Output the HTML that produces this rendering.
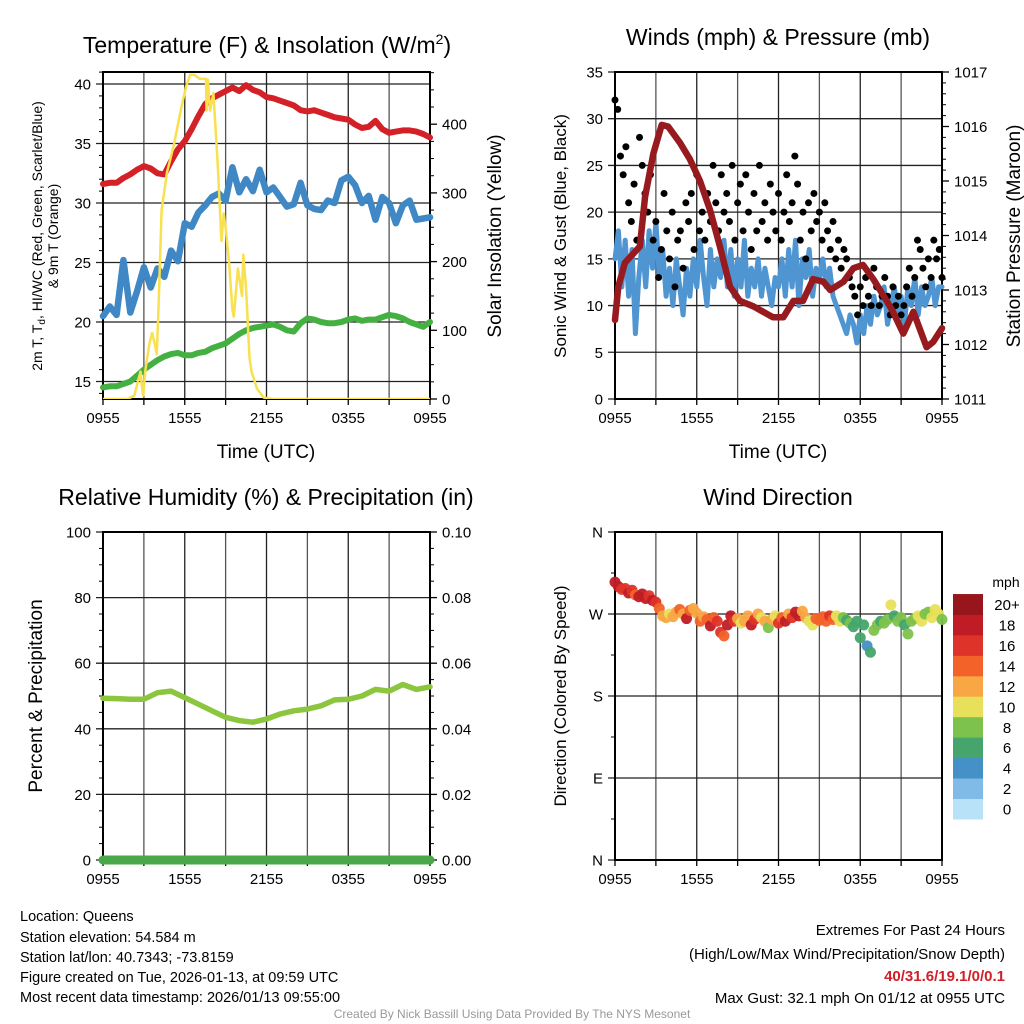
<!DOCTYPE html>
<html><head><meta charset="utf-8"><style>
html,body{margin:0;padding:0;background:#fff;}
svg{display:block;font-family:"Liberation Sans",sans-serif;}
</style></head><body>
<svg id="c" width="1024" height="1024" viewBox="0 0 1024 1024" xmlns="http://www.w3.org/2000/svg">
<rect width="1024" height="1024" fill="#fff"/>
<g id="g"></g>
<text x="267" y="53" font-size="23" text-anchor="middle">Temperature (F) &amp; Insolation (W/m<tspan font-size="14" dy="-9">2</tspan><tspan dy="9">)</tspan></text>
<text x="778" y="45" font-size="23" text-anchor="middle">Winds (mph) &amp; Pressure (mb)</text>
<text x="266" y="505" font-size="23" text-anchor="middle">Relative Humidity (%) &amp; Precipitation (in)</text>
<text x="778" y="505" font-size="23" text-anchor="middle">Wind Direction</text>
<text x="266" y="458" font-size="19" text-anchor="middle">Time (UTC)</text>
<text x="778" y="458" font-size="19" text-anchor="middle">Time (UTC)</text>
<text transform="translate(42,236) rotate(-90)" font-size="14" text-anchor="middle">2m T, T<tspan font-size="10" dy="3">d</tspan><tspan dy="-3">, HI/WC (Red, Green, Scarlet/Blue)</tspan></text>
<text transform="translate(58,236) rotate(-90)" font-size="14" text-anchor="middle">&amp; 9m T (Orange)</text>
<text transform="translate(501,236) rotate(-90)" font-size="19" text-anchor="middle">Solar Insolation (Yellow)</text>
<text transform="translate(566,236) rotate(-90)" font-size="17" text-anchor="middle">Sonic Wind &amp; Gust (Blue, Black)</text>
<text transform="translate(1020,236) rotate(-90)" font-size="19" text-anchor="middle">Station Pressure (Maroon)</text>
<text transform="translate(42,696) rotate(-90)" font-size="19" text-anchor="middle">Percent &amp; Precipitation</text>
<text transform="translate(566,696) rotate(-90)" font-size="17" text-anchor="middle">Direction (Colored By Speed)</text>
<text x="1006" y="587" font-size="14" text-anchor="middle">mph</text>
<g font-size="14.5">
<text x="20" y="921">Location: Queens</text>
<text x="20" y="942">Station elevation: 54.584 m</text>
<text x="20" y="962">Station lat/lon: 40.7343; -73.8159</text>
<text x="20" y="982">Figure created on Tue, 2026-01-13, at 09:59 UTC</text>
<text x="20" y="1002">Most recent data timestamp: 2026/01/13 09:55:00</text>
</g>
<g font-size="15" text-anchor="end">
<text x="1005" y="935">Extremes For Past 24 Hours</text>
<text x="1005" y="959">(High/Low/Max Wind/Precipitation/Snow Depth)</text>
<text x="1005" y="981" fill="#d0202a" font-weight="bold">40/31.6/19.1/0/0.1</text>
<text x="1005" y="1003">Max Gust: 32.1 mph On 01/12 at 0955 UTC</text>
</g>
<text x="512" y="1018" font-size="12" fill="#999" text-anchor="middle">Created By Nick Bassill Using Data Provided By The NYS Mesonet</text>
</svg>
<script>
// ---- data ----
const timeLabels = ["0955","1555","2155","0355","0955"];
const tempHours = [0,0.5,1,1.5,2,2.5,3,3.5,4,4.5,5,5.5,6,6.5,7,7.5,8,8.5,9,9.5,10,10.5,11,11.5,12,12.5,13,13.5,14,14.5,15,15.5,16,16.5,17,17.5,18,18.5,19,19.5,20,20.5,21,21.5,22,22.5,23,23.5,24];
const tempRed = [31.6,31.7,31.7,32.1,32.4,32.8,33.1,32.9,32.5,32.4,33.5,34.5,35.2,36.2,37.3,38.3,38.8,39.1,39.4,39.7,39.4,39.9,39.5,39.3,38.9,38.8,38.6,38.4,38.2,37.8,37.7,37.8,37.6,37.4,37.2,37.1,37.0,36.6,36.3,36.4,36.9,36.2,35.9,36.0,36.1,36.1,36.0,35.8,35.5];
const tempBlue = [20.5,21.3,20.6,25.2,20.8,22.6,24.6,22.9,24.5,23.8,26.0,25.1,28.3,28.0,29.2,29.8,30.5,30.8,30.2,33.0,30.9,32.0,31.0,32.8,30.9,31.3,30.5,29.7,29.9,31.7,29.8,29.5,29.4,30.2,30.0,31.9,32.2,31.5,30.0,30.6,28.6,30.5,30.0,28.3,29.8,30.2,28.6,28.7,28.8];
const tempGreen = [14.5,14.6,14.6,14.8,15.0,15.5,16.0,16.4,16.8,17.1,17.3,17.4,17.2,17.2,17.4,17.5,17.8,18.0,18.2,18.6,19.0,19.3,19.5,19.6,19.7,19.8,19.6,19.3,19.2,19.9,20.3,20.2,20.0,19.9,19.9,20.0,20.2,20.3,20.1,20.2,20.2,20.4,20.6,20.5,20.3,20.0,19.8,19.6,20.0];
const solarHours = [0,1.8,2.3,2.75,2.85,2.95,3.1,3.4,3.6,3.8,3.95,4.1,4.3,4.7,5.2,5.7,6.1,6.4,6.7,7.1,7.55,7.6,7.7,7.85,8.1,8.4,8.7,8.85,9.0,9.25,9.5,9.6,9.9,10.2,10.3,10.5,10.75,10.9,11.3,11.8,12.5,24];
const solarVals = [0,0,5,40,20,5,40,80,96,80,65,150,275,330,370,420,455,472,472,466,466,420,465,420,445,350,230,270,250,200,130,120,190,150,210,160,60,40,15,2,0,0];
const tempTicks = [15,20,25,30,35,40];
const solarTicks = [0,100,200,300,400];

const presHours = [0,0.24,0.73,1.83,2.2,2.81,3.43,3.9,4.77,5.5,6.24,6.97,7.7,8.44,9.17,10.15,11.6,12.35,13.1,13.8,14.55,15.3,15.8,16.76,17.5,18.2,18.96,19.94,20.4,21.16,21.9,22.87,23.36,24];
const presVals = [1012.45,1013.06,1013.5,1013.8,1014.7,1015.5,1016.03,1016.0,1015.7,1015.4,1015.0,1014.47,1013.8,1013.06,1012.8,1012.7,1012.5,1012.5,1012.8,1012.8,1013.2,1013.15,1013.0,1013.15,1013.4,1013.46,1013.2,1012.8,1012.6,1012.2,1012.6,1011.95,1012.05,1012.3];
const windStep = 0.25;
const windVals = [15,18,12,17,11,16,7,13,17,12,18,14,19,13,16,11,14,10,15,12,9,14,11,15,12,17,13,10,16,12,15,13,17,12,16,11,15,12,17,11,14,12,15,11,14,12,10,13,12,15,11,16,12,17,10,15,13,16,11,14,13,15,12,14,11,10,9,8,7,9,8,6,9,7,10,8,11,9,10,12,8,10,12,9,11,8,12,10,13,9,12,10,11,13,10,12,12];
const gustStep = 0.2;
const gustVals = [32,31,26,24,27,21,19,23,17,28,25,22,20,24,17,19,13,16,22,18,15,20,12,17,18,14,21,19,22,16,24,18,20,17,22,19,25,21,18,24,20,22,19,25,17,21,23,18,24,20,16,22,18,25,19,21,17,23,20,18,22,17,20,24,19,21,26,23,17,20,15,21,18,22,19,20,17,21,18,16,19,15,17,14,16,15,13,12,11,9,12,10,13,11,10,14,12,10,11,13,11,9,12,10,11,9,10,12,14,11,13,17,16,14,12,15,13,17,15,16,13];
const windTicks = [0,5,10,15,20,25,30,35];
const presTicks = [1011,1012,1013,1014,1015,1016,1017];

const rhHours = [0,1,2,3,4,5,6,7,8,9,10,11,12,13,14,15,16,17,18,19,20,21,22,23,24];
const rhVals = [49.3,49.2,49.0,49.0,51.0,51.5,49.5,47.5,45.5,43.5,42.5,42.0,43.0,44.5,45.5,46.0,47.0,48.8,49.0,50.0,52.0,51.5,53.5,52.0,52.8];
const precipVals = [0,0];
const rhTicks = [0,20,40,60,80,100];
const precipTicks = ["0.00","0.02","0.04","0.06","0.08","0.10"];

const dirStep = 0.25;
const dirVals = [305,300,297,298,293,296,291,289,292,287,290,285,283,276,268,266,270,267,272,275,270,265,274,276,271,262,267,264,257,266,262,250,246,258,268,262,265,260,262,268,258,264,270,266,262,255,264,268,260,266,262,270,266,272,268,273,266,262,258,265,263,267,262,268,264,268,262,266,263,260,256,262,244,258,235,228,252,258,262,260,264,280,268,262,266,258,248,262,265,268,262,270,272,266,275,270,264];
const spdVals = [19,18,17,16,19,17,14,19,18,19,17,18,16,14,13,12,11,13,12,14,13,18,15,12,13,14,12,15,18,14,17,16,15,19,18,17,12,11,12,13,18,17,12,11,13,9,12,10,16,14,18,12,17,19,18,12,13,10,11,14,15,14,15,16,14,10,10,8,7,8,7,7,7,6,4,6,8,8,7,8,8,10,7,8,8,7,8,8,9,10,10,8,9,10,11,10,8];
const dirTicks = ["N","E","S","W","N"];
const cbLabels = ["0","2","4","6","8","10","12","14","16","18","20+"];
const cbColors = ["#b8e2f8","#7fbbe6","#4490c7","#45a56c","#7dc24c","#e8e05a","#f9a744","#f26229","#de3328","#c01c26","#97161c"];

// ---- drawing ----
const NS="http://www.w3.org/2000/svg";
const G=document.getElementById('g');
function mk(tag,attrs,parent){const e=document.createElementNS(NS,tag);for(const k in attrs)e.setAttribute(k,attrs[k]);(parent||G).appendChild(e);return e;}
function txt(x,y,s,size,anchor,parent){const t=mk('text',{x:x,y:y,'font-size':size,'text-anchor':anchor},parent);t.textContent=s;return t;}

function panel(name,L,R,T,B){
  const g=mk('g',{});
  
  
  return {g,L,R,T,B,x:h=>L+(R-L)*h/24};
}
function frame(p,leftScale,leftMin,leftMax,leftTicks,leftLabels,rightFn,rightTicks,rightLabels,minorL,minorR){
  const g=p.g;
  for(let k=0;k<=8;k++){const xx=p.x(k*3);mk('line',{x1:xx,x2:xx,y1:p.T,y2:p.B,stroke:k%2?'#555':'#222','stroke-width':1.3},g);
    mk('line',{x1:xx,x2:xx,y1:p.B,y2:p.B+6,stroke:'#000','stroke-width':1.3},g);}
  for(let k=0;k<5;k++){const t=txt(p.x(k*6),p.B+24,timeLabels[k],15,'middle',g);}
  leftTicks.forEach((v,i)=>{const yy=leftScale(v);mk('line',{x1:p.L-7,x2:p.R,y1:yy,y2:yy,stroke:'#222','stroke-width':1.3},g);
    const t=txt(p.L-12,yy+5.5,leftLabels[i],15,'end',g);});
  minorL.forEach(v=>{const yy=leftScale(v);mk('line',{x1:p.L-4,x2:p.L,y1:yy,y2:yy,stroke:'#000','stroke-width':1},g);});
  if(rightFn){rightTicks.forEach((v,i)=>{const yy=rightFn(v);mk('line',{x1:p.R,x2:p.R+7,y1:yy,y2:yy,stroke:'#000','stroke-width':1.3},g);
    const t=txt(p.R+12,yy+5.5,rightLabels[i],15,'start',g);});
    minorR.forEach(v=>{const yy=rightFn(v);mk('line',{x1:p.R,x2:p.R+4,y1:yy,y2:yy,stroke:'#000','stroke-width':1},g);});}
  mk('rect',{x:p.L,y:p.T,width:p.R-p.L,height:p.B-p.T,fill:'none',stroke:'#000','stroke-width':2},g);
}
function line(p,hours,vals,scale,color,w,name){
  const d=hours.map((h,i)=>(i?'L':'M')+p.x(h).toFixed(1)+','+scale(vals[i]).toFixed(1)).join('');
  const e=mk('path',{d:d,fill:'none',stroke:color,'stroke-width':w,'stroke-linejoin':'round','stroke-linecap':'round'},p.g);
  
  
  return e;
}

// Panel 1: temperature
const p1=panel('temperature-panel',103,430,72,399);
const yT=v=>381.5-(v-15)*11.9;
const yS=v=>399-v*0.687;
const minT=[];for(let v=14;v<=41;v++)if(v%5)minT.push(v);
const minS=[];for(let v=25;v<=475;v+=25)if(v%100)minS.push(v);
frame(p1,yT,0,0,tempTicks,tempTicks.map(String),yS,solarTicks,solarTicks.map(String),minT,minS);
const cp1=mk('clipPath',{id:'cp1'});mk('rect',{x:103,y:72,width:327,height:327},cp1);
line(p1,tempHours,tempRed,yT,'#d42027',6,'series-temperature');
line(p1,tempHours,tempBlue,yT,'#3f88c5',6.5,'series-wind-chill');
line(p1,tempHours,tempGreen,yT,'#44b041',6,'series-dewpoint');
line(p1,solarHours,solarVals,yS,'#f8e04e',2.5,'series-insolation').setAttribute('clip-path','url(#cp1)');

// Panel 2: wind
const p2=panel('wind-panel',615,942,72,399);
const yW=v=>399-v*9.343;
const yP=v=>399-(v-1011)*54.5;
const minW=[];for(let v=1;v<35;v++)if(v%5&&v%2.5==0)minW.push(v);
const minP=[];for(let v=1011;v<1017;v++){for(let k=1;k<5;k++)minP.push(v+k*0.2);}
frame(p2,yW,0,0,windTicks,windTicks.map(String),yP,presTicks,presTicks.map(String),minW,minP);
line(p2,windVals.map((v,i)=>i*windStep),windVals,yW,'#4f95d2',5,'series-sonic-wind');
gustVals.forEach((v,i)=>{const c=mk('circle',{cx:p2.x(i*gustStep),cy:yW(v),r:3.5,fill:'#000'},p2.g);
  
  });
line(p2,presHours,presVals,yP,'#971b1e',6.5,'series-pressure');

// Panel 3: RH
const p3=panel('humidity-panel',103,430,532,860);
const yR=v=>860-v*3.28;
const minR=[];for(let v=5;v<100;v+=5)if(v%20)minR.push(v);
frame(p3,yR,0,0,rhTicks,rhTicks.map(String),yR,rhTicks,precipTicks,minR,minR);
line(p3,rhHours,rhVals,yR,'#8cc63f',5.5,'series-relative-humidity');
line(p3,[0,24],precipVals,yR,'#4aa84a',9,'series-precipitation');

// Panel 4: direction
const p4=panel('direction-panel',615,942,532,860);
const yD=v=>860-v*328/360;
const minD=[];for(let v=45;v<360;v+=90)minD.push(v);
frame(p4,yD,0,0,[0,90,180,270,360],dirTicks,null,[],[],minD,[]);
dirVals.forEach((v,i)=>{const b=Math.min(10,Math.floor(spdVals[i]/2));
  const c=mk('circle',{cx:p4.x(i*dirStep),cy:yD(v),r:5.5,fill:cbColors[b],opacity:0.95},p4.g);
  
  });
// colorbar
const cb=mk('g',{});


cbColors.forEach((col,i)=>{const y0=819-(i+1)*20.45;mk('rect',{x:953,y:y0,width:30,height:20.9,fill:col},cb);
  txt(1007,y0+16,cbLabels[i],15,'middle',cb);});
</script>
</body></html>
